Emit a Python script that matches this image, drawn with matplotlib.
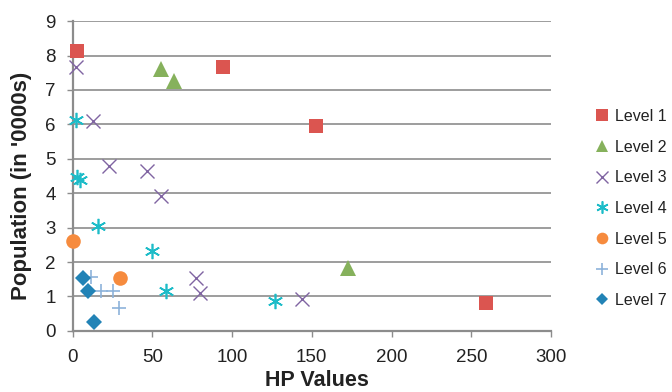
import matplotlib
matplotlib.use("Agg")
import matplotlib.pyplot as plt

plt.rcParams['font.family'] = ['Liberation Sans', 'DejaVu Sans']

# data
lvl1_x = [2.5, 94.5, 152.7, 259.4]
lvl1_y = [8.14, 7.67, 5.96, 0.80]
lvl2_x = [55.5, 63.6, 173.0]
lvl2_y = [7.62, 7.26, 1.84]
lvl3_x = [2.1, 12.9, 22.7, 46.7, 55.6, 77.5, 80.2, 143.8]
lvl3_y = [7.68, 6.11, 4.80, 4.65, 3.93, 1.55, 1.09, 0.92]
lvl4_x = [2.1, 2.5, 4.5, 16.0, 50.0, 58.8, 127.0]
lvl4_y = [6.13, 4.48, 4.38, 3.06, 2.33, 1.16, 0.88]
lvl5_x = [0.4, 29.8]
lvl5_y = [2.61, 1.53]
lvl6_x = [11.4, 17.7, 25.2, 29.0]
lvl6_y = [1.56, 1.16, 1.16, 0.66]
lvl7_x = [6.8, 9.5, 13.7]
lvl7_y = [1.53, 1.16, 0.25]

series = [
    ("Level 1", lvl1_x, lvl1_y, 's', '#DB5550', 10.5, None),
    ("Level 2", lvl2_x, lvl2_y, '^', '#86B15C', 11.5, None),
    ("Level 3", lvl3_x, lvl3_y, 'x', '#8064A2', 10, 1.0),
    ("Level 4", lvl4_x, lvl4_y, (6, 2, 0), '#1DBCC8', 11, 1.2),
    ("Level 5", lvl5_x, lvl5_y, 'o', '#F68B3E', 10.5, None),
    ("Level 6", lvl6_x, lvl6_y, '+', '#8DB3DA', 10, 1.2),
    ("Level 7", lvl7_x, lvl7_y, 'D', '#2283B6', 8, None),
]

fig = plt.figure(figsize=(6.72, 3.92), dpi=100)
ax = fig.add_axes([0.108, 0.156, 0.712, 0.79])

for name, xs, ys, mk, col, ms, lw in series:
    kw = dict(marker=mk, linestyle='none', color=col, markersize=ms, label=name,
              clip_on=False, zorder=3)
    kw['markeredgewidth'] = lw if lw is not None else 0
    ax.plot(xs, ys, **kw)

ax.set_xlim(0, 300)
ax.set_ylim(0, 9)
ax.set_xticks(range(0, 301, 50))
ax.set_yticks(range(0, 10))
ax.grid(axis='y', color='#8C8C8C', linewidth=1.2)
ax.set_axisbelow(True)
for s in ['top', 'right']:
    ax.spines[s].set_visible(False)
for s in ['left', 'bottom']:
    ax.spines[s].set_color('#8C8C8C')
    ax.spines[s].set_linewidth(1.6)
ax.tick_params(colors='#8C8C8C', labelcolor='#222222', labelsize=13.5, length=4, width=1)
ax.tick_params(axis='x', pad=9)
ax.tick_params(axis='y', pad=8)

ax.set_xlabel("HP Values", fontsize=15.5, fontweight='bold', color='#222222')
ax.set_ylabel("Population (in '0000s)", fontsize=16, fontweight='bold', color='#222222')
ax.xaxis.set_label_coords(0.5105, -0.126)
ax.yaxis.set_label_coords(-0.084, 0.468)

leg = ax.legend(loc='center left', bbox_to_anchor=(1.06, 0.395), frameon=False,
                fontsize=11.5, markerscale=0.8, handletextpad=0.3,
                labelspacing=0.98, handlelength=1.0)
for t in leg.get_texts():
    t.set_color('#222222')

fig.savefig("out.png", dpi=100)
